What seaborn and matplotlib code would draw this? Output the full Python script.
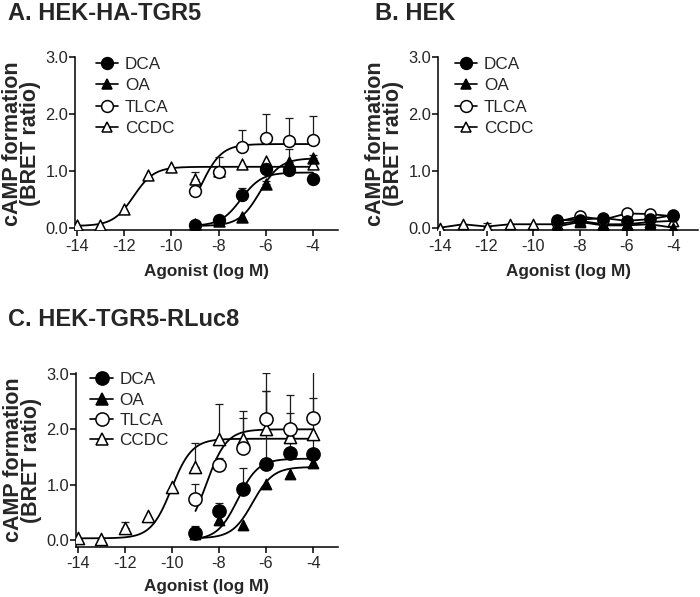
import numpy as np
import pandas as pd
import matplotlib
matplotlib.use("Agg")
import matplotlib.pyplot as plt
import seaborn as sns
from matplotlib.lines import Line2D

sns.set_style("ticks")
plt.rcParams["font.family"] = ["Liberation Sans", "DejaVu Sans"]

# ---------------- data ----------------
x_full = [-14, -13, -12, -11, -10, -9, -8, -7, -6, -5, -4]
x_short = [-9, -8, -7, -6, -5, -4]
series_names = ["DCA", "OA", "TLCA", "CCDC"]
x_ticks = [-14, -12, -10, -8, -6, -4]
x_tick_labels = ["-14", "-12", "-10", "-8", "-6", "-4"]
y_ticks = [0.0, 1.0, 2.0, 3.0]
y_tick_labels = ["0.0", "1.0", "2.0", "3.0"]
panel_titles = ["A. HEK-HA-TGR5", "B. HEK", "C. HEK-TGR5-RLuc8"]
x_label = "Agonist (log M)"
y_label = "cAMP formation\n(BRET ratio)"

# Panel A (HEK-HA-TGR5)
a_dca = [0.05, 0.13, 0.57, 1.03, 1.02, 0.85]
a_dca_err = [0.0, 0.0, 0.12, 0.05, 0.05, 0.0]
a_oa = [0.06, 0.12, 0.18, 0.77, 1.16, 1.23]
a_oa_err = [0.0, 0.0, 0.0, 0.05, 0.23, 0.05]
a_tlca = [0.64, 0.98, 1.41, 1.57, 1.53, 1.54]
a_tlca_err = [0.0, 0.27, 0.30, 0.43, 0.40, 0.43]
a_ccdc = [0.05, 0.04, 0.33, 0.92, 1.07, 0.86, 1.0, 1.12, 1.17, 1.12, 1.12]
a_ccdc_err = [0.0, 0.0, 0.0, 0.0, 0.0, 0.12, 0.0, 0.0, 0.0, 0.0, 0.0]
# fitted sigmoid parameters: bottom, top, logEC50, x start
a_fit_dca = [0.03, 0.97, -7.05, -9]
a_fit_oa = [0.03, 1.22, -6.25, -9]
a_fit_tlca = [0.0, 1.47, -8.75, -8.95]
a_fit_ccdc = [0.03, 1.07, -11.6, -14]

# Panel B (HEK) - connected points
b_dca = [0.13, 0.14, 0.17, 0.12, 0.15, 0.22]
b_oa = [0.02, 0.10, 0.04, 0.04, 0.06, 0.0]
b_tlca = [0.10, 0.20, 0.14, 0.25, 0.24, 0.20]
b_ccdc = [0.0, 0.06, 0.02, 0.06, 0.06, 0.06, 0.12, 0.06, 0.06, 0.10, 0.12]
b_ccdc_err = [0.0, 0.0, 0.07, 0.0, 0.0, 0.0, 0.0, 0.0, 0.0, 0.0, 0.0]

# Panel C (HEK-TGR5-RLuc8)
c_dca = [0.12, 0.52, 0.93, 1.37, 1.58, 1.55]
c_dca_err = [0.13, 0.14, 0.38, 1.33, 0.30, 1.02]
c_oa = [0.10, 0.36, 0.28, 1.02, 1.19, 1.39]
c_oa_err = [0.0, 0.0, 0.0, 0.0, 0.0, 0.0]
c_tlca = [0.74, 1.36, 1.67, 2.19, 2.01, 2.21]
c_tlca_err = [0.27, 0.12, 0.53, 0.83, 0.61, 1.10]
c_ccdc = [0.03, 0.02, 0.22, 0.43, 0.96, 1.32, 1.82, 1.83, 2.0, 1.86, 1.92]
c_ccdc_err = [0.0, 0.0, 0.11, 0.0, 0.0, 0.43, 0.64, 0.50, 0.70, 0.43, 0.0]
c_fit_dca = [0.0, 1.47, -7.2, -9]
c_fit_oa = [0.03, 1.32, -6.57, -9]
c_fit_tlca = [0.0, 2.0, -8.55, -9]
c_fit_ccdc = [0.03, 1.83, -10.02, -14]

# ---------------- styling ----------------
W, H = 700, 597
fig = plt.figure(figsize=(W / 100, H / 100), dpi=100)


def add_axes_px(left, top, right, bottom):
    return fig.add_axes([left / W, 1 - bottom / H, (right - left) / W, (bottom - top) / H])


styles = {
    "DCA": dict(marker="o", fc="black"),
    "OA": dict(marker="^", fc="black"),
    "TLCA": dict(marker="o", fc="white"),
    "CCDC": dict(marker="^", fc="white"),
}


def sigmoid(params, n=300):
    bottom, top, ec50, xs = params
    xx = np.linspace(xs, -4, n)
    yy = bottom + (top - bottom) / (1 + 10 ** (ec50 - xx))
    return xx, yy


def draw_points(ax, name, xs, ys, errs, ms):
    st = styles[name]
    xs = np.asarray(xs, float)
    ys = np.asarray(ys, float)
    if errs is not None:
        errs = np.asarray(errs, float)
        m = errs > 0
        if m.any():
            ax.errorbar(xs[m], ys[m], yerr=[np.zeros(m.sum()), errs[m]], fmt="none",
                        ecolor="#1a1a1a", elinewidth=0.9, capsize=3.2, capthick=0.9, zorder=3)
    size = ms ** 2 * (0.85 if st["marker"] == "^" else 1.0)
    sns.scatterplot(x=xs, y=ys, marker=st["marker"], s=size, color=st["fc"],
                    edgecolor="black", linewidth=1.1, ax=ax, zorder=4, legend=False)


def style_axes(ax, ylim, ylabel_x, xlabel_y):
    sns.despine(ax=ax)
    ax.set_xlim(-14.08, -2.94)
    ax.set_ylim(*ylim)
    ax.set_xticks(x_ticks)
    ax.set_xticklabels(x_tick_labels, fontsize=11.7)
    ax.set_yticks(y_ticks)
    ax.set_yticklabels(y_tick_labels, fontsize=11.8)
    ax.tick_params(axis="both", direction="out", length=4.2, width=1.1, color="black")
    ax.tick_params(axis="x", pad=2.5)
    ax.tick_params(axis="y", pad=0.8)
    for s in ["left", "bottom"]:
        ax.spines[s].set_linewidth(1.1)
        ax.spines[s].set_color("black")
    ax.set_xlabel(x_label, fontsize=12.3, fontweight="bold")
    ax.set_ylabel(y_label, fontsize=15.5, fontweight="bold", linespacing=0.8)
    ax.xaxis.set_label_coords(0.5, xlabel_y)
    ax.yaxis.set_label_coords(ylabel_x, 0.5)


def add_legend(ax, anchor, ms, spacing):
    handles = []
    for name in series_names:
        st = styles[name]
        handles.append(Line2D([], [], color="black", lw=1.2, marker=st["marker"],
                              markerfacecolor=st["fc"], markeredgecolor="black",
                              markersize=ms * (0.92 if st["marker"] == "^" else 1.0),
                              markeredgewidth=1.1))
    ax.legend(handles, series_names, loc="upper left", bbox_to_anchor=anchor, frameon=False,
              fontsize=12.3, handlelength=1.3, handletextpad=0.4, labelspacing=spacing,
              borderpad=0, borderaxespad=0)


# ---------------- Panel A ----------------
axA = add_axes_px(75, 57, 338, 229.5)
for name, params in zip(series_names, [a_fit_dca, a_fit_oa, a_fit_tlca, a_fit_ccdc]):
    xx, yy = sigmoid(params)
    sns.lineplot(x=xx, y=yy, color="black", lw=1.3, ax=axA, zorder=2, sort=False)
draw_points(axA, "CCDC", x_full, a_ccdc, a_ccdc_err, 8.5)
draw_points(axA, "TLCA", x_short, a_tlca, a_tlca_err, 8.5)
draw_points(axA, "OA", x_short, a_oa, a_oa_err, 8.5)
draw_points(axA, "DCA", x_short, a_dca, a_dca_err, 8.5)
style_axes(axA, (-0.032, 3.0), -0.13, -0.2)
add_legend(axA, (0.08, 1.0), 8.5, 0.37)

# ---------------- Panel B ----------------
axB = add_axes_px(438, 57, 698, 229.5)
for name, xs, ys in [("CCDC", x_full, b_ccdc), ("TLCA", x_short, b_tlca),
                     ("OA", x_short, b_oa), ("DCA", x_short, b_dca)]:
    sns.lineplot(x=xs, y=ys, color="black", lw=1.3, ax=axB, zorder=2)
draw_points(axB, "CCDC", x_full, b_ccdc, b_ccdc_err, 8)
draw_points(axB, "TLCA", x_short, b_tlca, None, 8)
draw_points(axB, "OA", x_short, b_oa, None, 8)
draw_points(axB, "DCA", x_short, b_dca, None, 8)
style_axes(axB, (-0.032, 3.0), -0.13 * 263 / 260, -0.2)
add_legend(axB, (0.065, 1.0), 8.5, 0.37)

# ---------------- Panel C ----------------
axC = add_axes_px(76, 373, 338, 547)
for name, params in zip(series_names, [c_fit_dca, c_fit_oa, c_fit_tlca, c_fit_ccdc]):
    xx, yy = sigmoid(params)
    sns.lineplot(x=xx, y=yy, color="black", lw=1.3, ax=axC, zorder=2, sort=False)
draw_points(axC, "CCDC", x_full, c_ccdc, c_ccdc_err, 9.5)
draw_points(axC, "TLCA", x_short, c_tlca, c_tlca_err, 9.5)
draw_points(axC, "OA", x_short, c_oa, c_oa_err, 8)
draw_points(axC, "DCA", x_short, c_dca, c_dca_err, 9.5)
style_axes(axC, (-0.1265, 3.018), -0.13 * 263 / 262, -0.185)
add_legend(axC, (0.055, 1.003), 9.5, 0.30)

# ---------------- titles ----------------
fig.text(8 / W, 1 - 14 / H, panel_titles[0], fontsize=17, fontweight="bold", va="center", ha="left")
fig.text(375 / W, 1 - 14 / H, panel_titles[1], fontsize=17, fontweight="bold", va="center", ha="left")
fig.text(8 / W, 1 - 320 / H, panel_titles[2], fontsize=17, fontweight="bold", va="center", ha="left")

fig.savefig("out.png", dpi=100)
